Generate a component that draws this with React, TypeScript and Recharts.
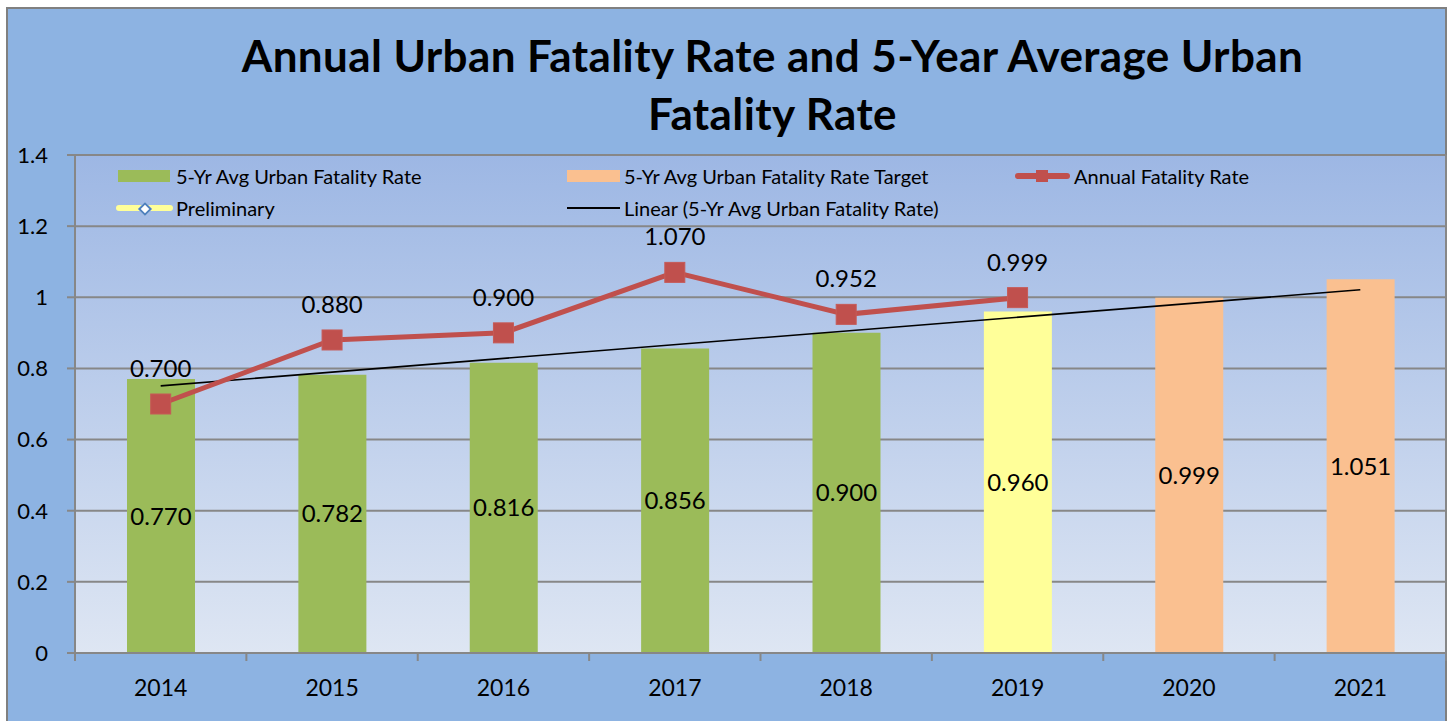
import React from "react";
import {
  ComposedChart,
  Bar,
  Line,
  XAxis,
  YAxis,
  CartesianGrid,
  Legend,
  LabelList,
} from "recharts";

// ---- data ----
const years = ["2014", "2015", "2016", "2017", "2018", "2019", "2020", "2021"];
const avg5Yr = [0.77, 0.782, 0.816, 0.856, 0.9, null, null, null];
const preliminary = [null, null, null, null, null, 0.96, null, null];
const target = [null, null, null, null, null, null, 0.999, 1.051];
const annual = [0.7, 0.88, 0.9, 1.07, 0.952, 0.999, null, null];
const trend = [0.751, null, null, null, null, null, null, 1.021];
const yTicks = [0, 0.2, 0.4, 0.6, 0.8, 1, 1.2, 1.4];

const seriesNames = {
  avg: "5-Yr Avg Urban Fatality Rate",
  target: "5-Yr Avg Urban Fatality Rate Target",
  annual: "Annual Fatality Rate",
  prelim: "Preliminary",
  trend: "Linear (5-Yr Avg Urban Fatality Rate)",
};
const titleLines = ["Annual Urban Fatality Rate and 5-Year Average Urban", "Fatality Rate"];

const data = years.map((y, i) => ({
  year: y,
  avg: avg5Yr[i],
  prelim: preliminary[i],
  target: target[i],
  annual: annual[i],
  trend: trend[i],
}));

// ---- layout ----
const W = 1452;
const H = 721;
const MARGIN = { top: 155, right: 6, left: 0, bottom: 0 };
const YAXIS_W = 75;
const XAXIS_H = 68;
const PLOT_W = W - MARGIN.left - MARGIN.right - YAXIS_W;
const FONT = "Lato, 'Open Sans', sans-serif";

const GREEN = "#9BBB59";
const YELLOW = "#FFFF99";
const ORANGE = "#FAC090";
const RED = "#C0504D";
const GRID = "#878787";

const fmt = (v: any) => (v == null ? "" : Number(v).toFixed(3));

const XTick = (props: any) => {
  const { x, y, payload, index } = props;
  const bw = PLOT_W / years.length;
  const axisY = y - 8;
  return (
    <g>
      <line x1={x - bw / 2} x2={x - bw / 2} y1={axisY} y2={axisY + 8} stroke={GRID} strokeWidth={2} />
      {index === years.length - 1 && (
        <line x1={x + bw / 2} x2={x + bw / 2} y1={axisY} y2={axisY + 8} stroke={GRID} strokeWidth={2} />
      )}
      <text x={x} y={y} dy={35} textAnchor="middle" fontFamily={FONT} fontSize={23} fill="#000">
        {payload.value}
      </text>
    </g>
  );
};

const SquareDot = (props: any) => {
  const { cx, cy, value } = props;
  if (value == null || cx == null || cy == null) return <g />;
  const s = 20;
  return <rect x={cx - s / 2} y={cy - s / 2} width={s} height={s} fill={RED} stroke="#C65A57" strokeWidth={1} />;
};

const LegendContent = () => {
  const text = (left: number, cy: number, label: string) => (
    <div
      style={{
        position: "absolute",
        left,
        top: cy - 10,
        height: 20,
        lineHeight: "20px",
        fontFamily: FONT,
        fontSize: 20,
        color: "#000",
        whiteSpace: "nowrap",
      }}
    >
      {label}
    </div>
  );
  const r1 = 16;
  const r2 = 48;
  return (
    <div style={{ position: "relative", width: W, height: 64 }}>
      <div style={{ position: "absolute", left: 118, top: r1 - 6, width: 52, height: 12, background: GREEN }} />
      {text(176, r1, seriesNames.avg)}
      <div style={{ position: "absolute", left: 567, top: r1 - 6, width: 53, height: 12, background: ORANGE }} />
      {text(624, r1, seriesNames.target)}
      <div style={{ position: "absolute", left: 1015, top: r1 - 3, width: 55, height: 6, background: RED, borderRadius: 3 }} />
      <div style={{ position: "absolute", left: 1036, top: r1 - 6, width: 12, height: 12, background: RED }} />
      {text(1074, r1, seriesNames.annual)}
      <div style={{ position: "absolute", left: 116, top: r2 - 3, width: 57, height: 6, background: YELLOW, borderRadius: 3 }} />
      <div
        style={{
          position: "absolute",
          left: 140,
          top: r2 - 4,
          width: 6,
          height: 6,
          background: "#fff",
          border: "2px solid #4F81BD",
          transform: "rotate(45deg)",
        }}
      />
      {text(176, r2, seriesNames.prelim)}
      <div style={{ position: "absolute", left: 567, top: r2 - 1, width: 53, height: 2, background: "#000" }} />
      {text(624, r2, seriesNames.trend)}
    </div>
  );
};

export default function App() {
  return (
    <div style={{ position: "absolute", left: 0, top: 0, width: W, height: H, overflow: "hidden", background: "#fff" }}>
      <div
        style={{
          position: "absolute",
          left: 6,
          top: 7,
          width: 1441,
          height: 740,
          boxSizing: "border-box",
          border: "2px solid #808080",
          background: "#8DB3E2",
        }}
      />
      <div
        style={{
          position: "absolute",
          left: 172,
          top: 26,
          width: 1201,
          textAlign: "center",
          fontFamily: FONT,
          fontWeight: 700,
          fontSize: 44,
          letterSpacing: 0.4,
          lineHeight: "58px",
          color: "#000",
        }}
      >
        {titleLines[0]}
        <br />
        {titleLines[1]}
      </div>
      <div style={{ position: "absolute", left: 0, top: 0 }}>
        <ComposedChart width={W} height={H} data={data} margin={MARGIN} barGap={0}>
          <defs>
            <linearGradient id="plotBg" x1="0" y1="0" x2="0" y2="1">
              <stop offset="0%" stopColor="#9DB7E4" />
              <stop offset="100%" stopColor="#DEE6F3" />
            </linearGradient>
          </defs>
          <CartesianGrid
            vertical={true}
            horizontal={true}
            fill="url(#plotBg)"
            fillOpacity={1}
            stroke={GRID}
            strokeWidth={2}
            verticalCoordinatesGenerator={({ offset }: any) => [offset.left + offset.width]}
          />
          <XAxis
            dataKey="year"
            height={XAXIS_H}
            tickLine={false}
            tickSize={8}
            tickMargin={0}
            axisLine={{ stroke: GRID, strokeWidth: 2 }}
            tick={<XTick />}
            interval={0}
          />
          <YAxis
            width={YAXIS_W}
            domain={[0, 1.4]}
            ticks={yTicks}
            tickSize={8}
            tickMargin={19}
            axisLine={{ stroke: GRID, strokeWidth: 2 }}
            tickLine={{ stroke: GRID, strokeWidth: 2 }}
            tick={{ fontFamily: FONT, fontSize: 22, fill: "#000" }}
            allowDataOverflow
          />
          <Legend verticalAlign="middle" align="center" layout="horizontal" content={<LegendContent />} wrapperStyle={{ left: 0, top: 160, width: W, height: 64 }} />
          <Bar dataKey="avg" name={seriesNames.avg} stackId="a" fill={GREEN} barSize={68} isAnimationActive={false}>
            <LabelList dataKey="avg" position="center" formatter={fmt} fontFamily={FONT} fontSize={24} fill="#000" />
          </Bar>
          <Bar dataKey="prelim" name={seriesNames.prelim} stackId="a" fill={YELLOW} barSize={68} isAnimationActive={false}>
            <LabelList dataKey="prelim" position="center" formatter={fmt} fontFamily={FONT} fontSize={24} fill="#000" />
          </Bar>
          <Bar dataKey="target" name={seriesNames.target} stackId="a" fill={ORANGE} barSize={68} isAnimationActive={false}>
            <LabelList dataKey="target" position="center" formatter={fmt} fontFamily={FONT} fontSize={24} fill="#000" />
          </Bar>
          <Line
            dataKey="trend"
            name={seriesNames.trend}
            stroke="#000"
            strokeWidth={1.6}
            dot={false}
            activeDot={false}
            connectNulls
            isAnimationActive={false}
          />
          <Line
            dataKey="annual"
            name={seriesNames.annual}
            stroke={RED}
            strokeWidth={5}
            dot={<SquareDot />}
            activeDot={false}
            isAnimationActive={false}
          >
            <LabelList dataKey="annual" position="top" offset={27} formatter={fmt} fontFamily={FONT} fontSize={24} fill="#000" />
          </Line>
        </ComposedChart>
      </div>
    </div>
  );
}
